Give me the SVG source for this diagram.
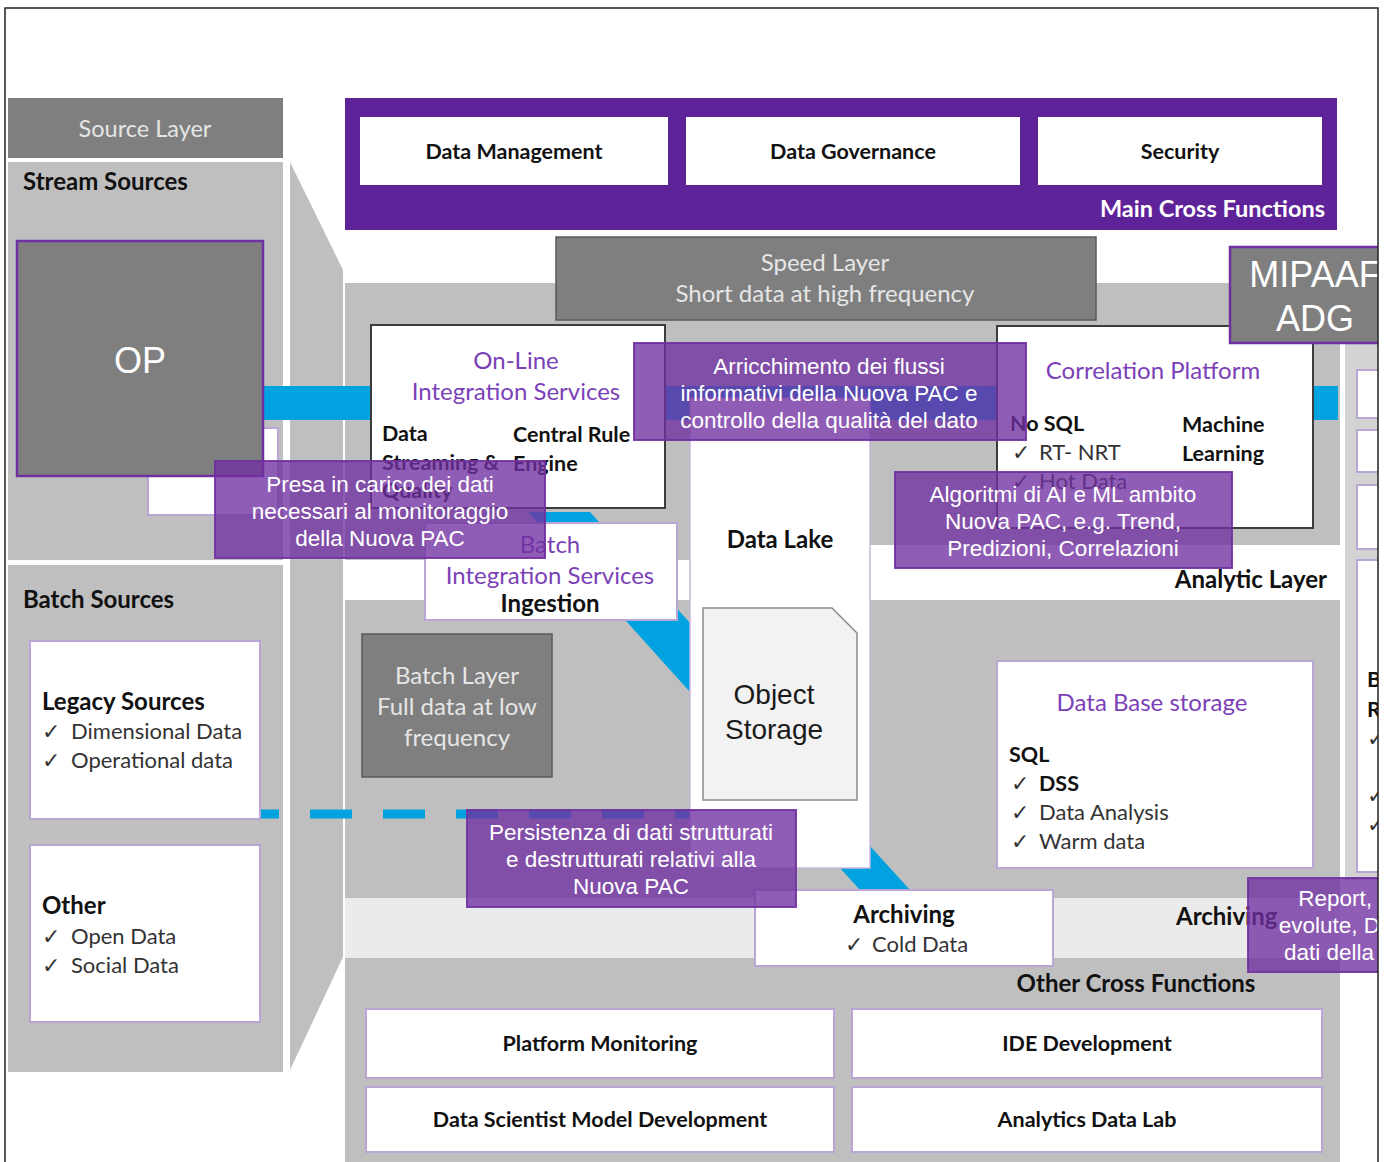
<svg xmlns="http://www.w3.org/2000/svg" width="1385" height="1162" viewBox="0 0 1385 1162">
<defs>
<style>
.t{font-family:Lato,"Open Sans","DejaVu Sans",sans-serif;}
.a{font-family:"Liberation Sans",Arial,sans-serif;}
.b{font-weight:bold;}
.panel{fill:#bfbfbf;}
.dark{fill:#7f7f7f;stroke:#5a5a5a;stroke-width:1.5;}
.wbox{fill:#ffffff;stroke:#b9a6d6;stroke-width:2;}
.kbox{fill:#ffffff;stroke:#3c3c3c;stroke-width:2;}
.ov{fill:#7030a0;fill-opacity:0.78;stroke:#7030a0;stroke-width:2;stroke-opacity:0.9;}
.ovt{font-family:"Liberation Sans",Arial,sans-serif;font-size:22.5px;fill:#ffffff;text-anchor:middle;}
.pt{fill:#7b3fb8;font-size:24px;text-anchor:middle;}
.blue{fill:#00a3e0;}
.it{font-size:22px;fill:#333333;}
.hd{font-size:24px;fill:#111111;}
.bx{font-size:21.5px;fill:#111111;}
.lt{font-size:24px;fill:#e6e6e6;}
.c{text-anchor:middle;}
.e{text-anchor:end;}
</style>
<clipPath id="frame"><rect x="0" y="0" width="1378" height="1162"/></clipPath>
</defs>

<rect x="0" y="0" width="1385" height="1162" fill="#ffffff"/>

<g id="source-layer">
<rect x="8" y="98" width="275" height="60" fill="#7f7f7f"/>
<text x="145" y="137" class="t c" font-size="23.5" fill="#e6e6e6">Source Layer</text>
</g>
<g id="stream-sources">
<rect x="8" y="162" width="275" height="398" class="panel"/>
<text x="23" y="190" class="t b hd">Stream Sources</text>
</g>
<g id="batch-sources">
<rect x="8" y="565" width="275" height="507" class="panel"/>
<text x="23" y="608" class="t b hd">Batch Sources</text>
</g>
<polygon id="funnel" points="290,162 343,270 343,957 290,1070" fill="#bfbfbf"/>

<g id="main-area">
<rect x="345" y="283" width="995" height="879" class="panel"/>
<rect x="345" y="560" width="345" height="40" fill="#ffffff"/>
<rect x="870" y="545" width="470" height="55" fill="#ffffff"/>
<rect x="345" y="898" width="995" height="60" fill="#ebebeb"/>
<text x="1327" y="588" class="t b hd e">Analytic Layer</text>
<text x="1176" y="925" class="t b hd">Archiving</text>
<text x="1136" y="992" class="t b hd c">Other Cross Functions</text>
</g>

<g id="right-column" clip-path="url(#frame)">
<rect x="1345" y="343" width="40" height="537" fill="#d3d3d3"/>
<rect x="1340" y="343" width="5" height="537" fill="#ffffff"/>
<rect x="1357" y="370" width="30" height="48" class="wbox"/>
<rect x="1357" y="430" width="30" height="42" class="wbox"/>
<rect x="1357" y="485" width="30" height="64" class="wbox"/>
<rect x="1357" y="560" width="30" height="312" class="wbox"/>
<text x="1367" y="687" class="t b bx">B</text>
<text x="1367" y="717" class="t b bx">R</text>
<text x="1367" y="746" class="t it">✓</text>
<text x="1367" y="803" class="t it">✓</text>
<text x="1367" y="832" class="t it">✓</text>
</g>

<g id="connectors">
<rect x="263" y="386" width="1075" height="34" class="blue"/>
<polygon points="528,512 590,512 690,623 690,692" class="blue"/>
<polygon points="800,824 850,824 910,890 860,890" class="blue"/>
<line x1="237" y1="814" x2="690" y2="814" stroke="#00a3e0" stroke-width="9" stroke-dasharray="42 31"/>
</g>

<g id="hidden-box">
<rect x="148" y="428" width="130" height="87" class="wbox"/>
</g>
<g id="op">
<rect x="17" y="241" width="246" height="235" fill="#7f7f7f" stroke="#7030a0" stroke-width="2.5"/>
<text x="140" y="373" class="a c" font-size="36" fill="#ffffff">OP</text>
</g>

<g id="legacy-sources">
<rect x="30" y="641" width="230" height="178" class="wbox"/>
<text x="42" y="710" class="t b hd">Legacy Sources</text>
<text x="42" y="739" class="t it">✓</text><text x="71" y="739" class="t it">Dimensional Data</text>
<text x="42" y="768" class="t it">✓</text><text x="71" y="768" class="t it">Operational data</text>
</g>
<g id="other">
<rect x="30" y="845" width="230" height="177" class="wbox"/>
<text x="42" y="914" class="t b hd">Other</text>
<text x="42" y="944" class="t it">✓</text><text x="71" y="944" class="t it">Open Data</text>
<text x="42" y="973" class="t it">✓</text><text x="71" y="973" class="t it">Social Data</text>
</g>

<g id="online-integration">
<rect x="371" y="325" width="294" height="183" class="kbox"/>
<text x="516" y="369" class="t pt">On-Line</text>
<text x="516" y="400" class="t pt">Integration Services</text>
<text x="382" y="441" class="t b bx">Data</text>
<text x="382" y="470" class="t b bx">Streaming &amp;</text>
<text x="382" y="498" class="t b bx">Quality</text>
<text x="513" y="442" class="t b bx">Central Rule</text>
<text x="513" y="471" class="t b bx">Engine</text>
</g>

<g id="correlation-platform">
<rect x="997" y="326" width="316" height="202" class="kbox"/>
<text x="1153" y="379" class="t pt">Correlation Platform</text>
<text x="1010" y="431" class="t b bx">No SQL</text>
<text x="1012" y="460" class="t it">✓</text><text x="1039" y="460" class="t it">RT- NRT</text>
<text x="1012" y="489" class="t it">✓</text><text x="1039" y="489" class="t it">Hot Data</text>
<text x="1182" y="432" class="t b bx">Machine</text>
<text x="1182" y="461" class="t b bx">Learning</text>
</g>

<g id="data-lake">
<rect x="690" y="398" width="180" height="470" fill="#ffffff" stroke="#c9b8e0" stroke-width="1.5"/>
<text x="780" y="548" class="t b hd c">Data Lake</text>
</g>
<g id="object-storage">
<path d="M703,608 H832 L857,633 V800 H703 Z" fill="#f2f2f2" stroke="#8a8a8a" stroke-width="1.5"/>
<text x="774" y="704" class="a c" font-size="28" fill="#1a1a1a">Object</text>
<text x="774" y="739" class="a c" font-size="28" fill="#1a1a1a">Storage</text>
</g>

<g id="batch-integration">
<rect x="425" y="523" width="252" height="97" class="wbox"/>
<text x="550" y="553" class="t pt">Batch</text>
<text x="550" y="584" class="t pt">Integration Services</text>
<text x="550" y="612" class="t b hd c">Ingestion</text>
</g>

<g id="batch-layer">
<rect x="362" y="634" width="190" height="143" class="dark"/>
<text x="457" y="684" class="t c lt">Batch Layer</text>
<text x="457" y="715" class="t c lt">Full data at low</text>
<text x="457" y="746" class="t c lt">frequency</text>
</g>

<g id="database-storage">
<rect x="997" y="661" width="316" height="207" class="wbox"/>
<text x="1152" y="711" class="t pt">Data Base storage</text>
<text x="1009" y="762" class="t b bx">SQL</text>
<text x="1011" y="791" class="t it">✓</text><text x="1039" y="791" class="t b bx">DSS</text>
<text x="1011" y="820" class="t it">✓</text><text x="1039" y="820" class="t it">Data Analysis</text>
<text x="1011" y="849" class="t it">✓</text><text x="1039" y="849" class="t it">Warm data</text>
</g>

<g id="archiving">
<rect x="755" y="890" width="298" height="76" class="wbox"/>
<text x="904" y="923" class="t b hd c">Archiving</text>
<text x="845" y="952" class="t it">✓</text><text x="872" y="952" class="t it">Cold Data</text>
</g>

<g id="platform-monitoring">
<rect x="366" y="1009" width="468" height="69" class="wbox"/>
<text x="600" y="1051" class="t b bx c">Platform Monitoring</text>
</g>
<g id="ide-development">
<rect x="852" y="1009" width="470" height="69" class="wbox"/>
<text x="1087" y="1051" class="t b bx c">IDE Development</text>
</g>
<g id="data-scientist">
<rect x="366" y="1087" width="468" height="65" class="wbox"/>
<text x="600" y="1127" class="t b bx c">Data Scientist Model Development</text>
</g>
<g id="analytics-lab">
<rect x="852" y="1087" width="470" height="65" class="wbox"/>
<text x="1087" y="1127" class="t b bx c">Analytics Data Lab</text>
</g>

<g id="speed-layer">
<rect x="556" y="237" width="540" height="83" class="dark"/>
<text x="825" y="271" class="t c lt">Speed Layer</text>
<text x="825" y="302" class="t c lt">Short data at high frequency</text>
</g>

<g id="main-cross-functions">
<rect x="345" y="98" width="992" height="132" fill="#5f2399"/>
<rect x="360" y="117" width="308" height="68" fill="#ffffff"/>
<rect x="686" y="117" width="334" height="68" fill="#ffffff"/>
<rect x="1038" y="117" width="284" height="68" fill="#ffffff"/>
<text x="514" y="159" class="t b bx c">Data Management</text>
<text x="853" y="159" class="t b bx c">Data Governance</text>
<text x="1180" y="159" class="t b bx c">Security</text>
<text x="1325" y="217" class="t b e" font-size="23.5" fill="#ffffff">Main Cross Functions</text>
</g>

<g id="mipaaf" clip-path="url(#frame)">
<rect x="1230" y="247" width="160" height="96" fill="#7f7f7f" stroke="#7030a0" stroke-width="2.5"/>
<text x="1315" y="287" class="a c" font-size="36" fill="#ffffff">MIPAAF</text>
<text x="1315" y="331" class="a c" font-size="36" fill="#ffffff">ADG</text>
</g>

<g id="note-presa">
<rect x="215" y="461" width="330" height="97" class="ov"/>
<text x="380" y="492" class="ovt">Presa in carico dei dati</text>
<text x="380" y="519" class="ovt">necessari al monitoraggio</text>
<text x="380" y="546" class="ovt">della Nuova PAC</text>
</g>
<g id="note-arricchimento">
<rect x="634" y="343" width="392" height="97" class="ov"/>
<text x="829" y="374" class="ovt">Arricchimento dei flussi</text>
<text x="829" y="401" class="ovt">informativi della Nuova PAC e</text>
<text x="829" y="428" class="ovt">controllo della qualità del dato</text>
</g>
<g id="note-algoritmi">
<rect x="895" y="472" width="337" height="96" class="ov"/>
<text x="1063" y="502" class="ovt">Algoritmi di AI e ML ambito</text>
<text x="1063" y="529" class="ovt">Nuova PAC, e.g. Trend,</text>
<text x="1063" y="556" class="ovt">Predizioni, Correlazioni</text>
</g>
<g id="note-persistenza">
<rect x="467" y="810" width="329" height="97" class="ov"/>
<text x="631" y="840" class="ovt">Persistenza di dati strutturati</text>
<text x="631" y="867" class="ovt">e destrutturati relativi alla</text>
<text x="631" y="894" class="ovt">Nuova PAC</text>
</g>
<g id="note-report" clip-path="url(#frame)">
<rect x="1248" y="878" width="140" height="94" class="ov"/>
<text x="1372" y="906" class="ovt e">Report,</text>
<text x="1380" y="933" class="ovt e">evolute, D</text>
<text x="1374" y="960" class="ovt e">dati della</text>
</g>

<path d="M5,1162 V8 H1378 V1162" fill="none" stroke="#222222" stroke-width="1.5"/>
</svg>
